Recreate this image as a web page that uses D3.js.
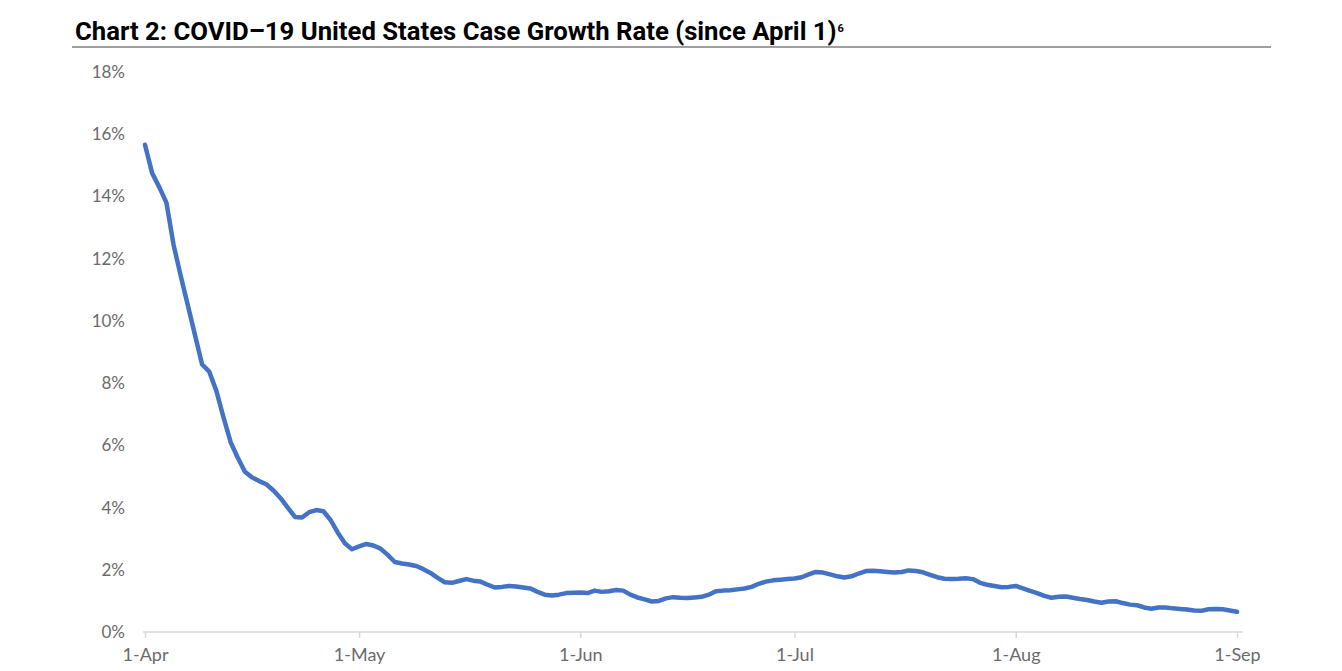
<!DOCTYPE html>
<html>
<head>
<meta charset="utf-8">
<script src="https://cdn.jsdelivr.net/npm/d3@7"></script>
<style>
  body { margin: 0; background: #fff; }
  svg { display: block; }
</style>
</head>
<body>
<svg id="chart" width="1342" height="671"></svg>
<script>
// daily growth rate (%) from 1-Apr to 1-Sep
var startDate = new Date(2020, 3, 1);
var growth = [
  15.66, 14.75, 14.3, 13.8, 12.45, 11.45, 10.5, 9.55, 8.6, 8.37,
  7.75, 6.9, 6.1, 5.6, 5.15, 4.97, 4.85, 4.75, 4.55, 4.3,
  4.0, 3.7, 3.68, 3.85, 3.92, 3.88, 3.6, 3.2, 2.85, 2.66,
  2.75, 2.83, 2.78, 2.68, 2.48, 2.25, 2.2, 2.17, 2.12, 2.02,
  1.9, 1.74, 1.6, 1.58, 1.64, 1.7, 1.65, 1.62, 1.52, 1.43,
  1.45, 1.48, 1.46, 1.43, 1.4, 1.29, 1.2, 1.17, 1.2, 1.25,
  1.26, 1.27, 1.25, 1.33, 1.29, 1.31, 1.35, 1.33, 1.2, 1.11,
  1.05, 0.98, 1.0, 1.08, 1.12, 1.1, 1.09, 1.11, 1.13, 1.2,
  1.31, 1.33, 1.34, 1.37, 1.4, 1.45, 1.55, 1.62, 1.66, 1.68,
  1.7, 1.72, 1.76, 1.85, 1.93, 1.91, 1.85, 1.79, 1.75, 1.79,
  1.88, 1.96, 1.97, 1.95, 1.93, 1.91, 1.93, 1.98, 1.96, 1.92,
  1.84, 1.76, 1.71, 1.7, 1.71, 1.73, 1.7, 1.58, 1.52, 1.48,
  1.44, 1.45, 1.48, 1.4, 1.32, 1.25, 1.16, 1.1, 1.13, 1.14,
  1.1, 1.06, 1.03, 0.98, 0.94, 0.98, 0.99, 0.93, 0.88, 0.86,
  0.79, 0.75, 0.79, 0.79, 0.76, 0.74, 0.72, 0.69, 0.68, 0.73,
  0.74, 0.73, 0.69, 0.65
];
var yTicks = [0, 2, 4, 6, 8, 10, 12, 14, 16, 18];
var xTickDates = [new Date(2020,3,1), new Date(2020,4,1), new Date(2020,5,1),
                  new Date(2020,6,1), new Date(2020,7,1), new Date(2020,8,1)];
var monthNames = ["Jan","Feb","Mar","Apr","May","Jun","Jul","Aug","Sep","Oct","Nov","Dec"];

var data = growth.map((v,i) => {
  return {date: d3.timeDay.offset(startDate, i), value: v};
});

var svg = d3.select("#chart");
var labelFont = "'Lato', 'Open Sans', sans-serif";

var x = d3.scaleTime()
  .domain([startDate, new Date(2020, 8, 1)])
  .range([145, 1237]);
var y = d3.scaleLinear()
  .domain([0, 18])
  .range([632, 72]);

// title + rule under it
var title = svg.append("text")
  .attr("x", 75)
  .attr("y", 40)
  .attr("font-family", "'Roboto', 'DejaVu Sans', sans-serif")
  .attr("font-weight", "bold")
  .attr("font-size", 22)
  .attr("fill", "#000")
  .text("Chart 2: COVID\u201319 United States Case Growth Rate (since April 1)");
// fit title width to the reference
var tw = title.node().getComputedTextLength();
title.attr("font-size", 22 * 762 / tw);
var tw2 = title.node().getComputedTextLength();
svg.append("text")
  .attr("x", 75 + tw2 + 1)
  .attr("y", 32)
  .attr("font-family", "'Roboto', sans-serif")
  .attr("font-weight", "bold")
  .attr("font-size", 11)
  .text("6");

svg.append("line")
  .attr("x1", 72).attr("x2", 1271)
  .attr("y1", 47).attr("y2", 47)
  .attr("stroke", "#7f7f7f")
  .attr("stroke-width", 1.5);

// y axis labels (no axis line)
var yAxis = d3.axisLeft(y)
  .tickValues(yTicks)
  .tickSize(0)
  .tickPadding(0)
  .tickFormat(d => d + "%");
var gy = svg.append("g")
  .attr("transform", "translate(125,0)")
  .call(yAxis);
gy.select(".domain").remove();
gy.selectAll("text")
  .attr("font-family", labelFont)
  .attr("font-size", 17)
  .attr("fill", "#6b6b6b");

// x axis
var xAxis = d3.axisBottom(x)
  .tickValues(xTickDates)
  .tickSize(6)
  .tickSizeOuter(0)
  .tickPadding(10)
  .tickFormat(d => d.getDate() + "-" + monthNames[d.getMonth()]);
var gx = svg.append("g")
  .attr("transform", "translate(0," + y(0) + ")")
  .call(xAxis);
gx.select(".domain")
  .attr("d", "M" + x(d3.timeHour.offset(startDate, -7)) + ",0H" + x(d3.timeHour.offset(new Date(2020,8,1), 19)))
  .attr("stroke", "#d9d9d9")
  .attr("stroke-width", 1.5);
gx.selectAll(".tick line")
  .attr("stroke", "#d9d9d9")
  .attr("stroke-width", 1.5);
gx.selectAll("text")
  .attr("font-family", labelFont)
  .attr("font-size", 18)
  .attr("fill", "#6b6b6b");

// the line
var line = d3.line()
  .x(d => x(d.date))
  .y(d => y(d.value));

svg.append("path")
  .datum(data)
  .attr("d", line)
  .attr("fill", "none")
  .attr("stroke", "#4472c4")
  .attr("stroke-width", 4.5)
  .attr("stroke-linejoin", "round")
  .attr("stroke-linecap", "round");
</script>
</body>
</html>
